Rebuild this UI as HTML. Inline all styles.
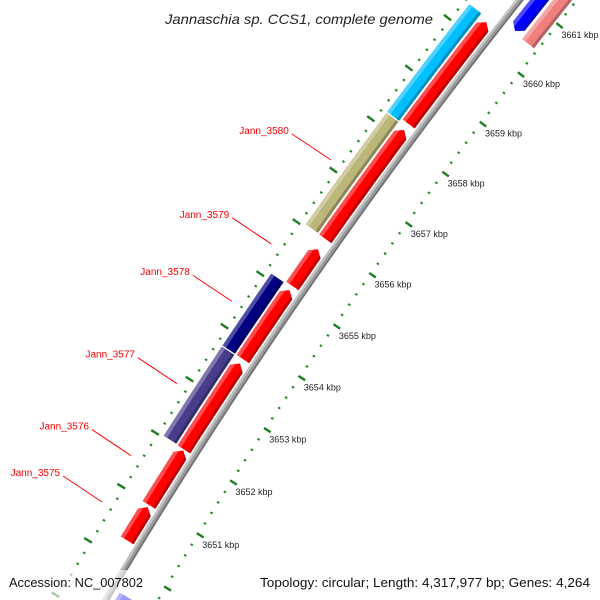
<!DOCTYPE html>
<html><head><meta charset="utf-8"><title>Jannaschia sp. CCS1 genome map</title>
<style>html,body{margin:0;padding:0;background:#fff;width:600px;height:600px;overflow:hidden}svg{display:block}</style></head>
<body>
<svg id="map" xmlns="http://www.w3.org/2000/svg" width="600" height="600" viewBox="0 0 600 600">
<rect x="0" y="0" width="600" height="600" fill="#fff"/>
<g id="ticks-layer"></g>
<g id="backbone-layer"></g>
<g id="feature-layer"></g>
<g id="label-layer"></g>
<text x="165" y="24" font-family="Liberation Sans, sans-serif" font-style="italic" font-size="14" fill="#222" textLength="268" lengthAdjust="spacingAndGlyphs">Jannaschia sp. CCS1, complete genome</text>
<rect x="0" y="570" width="152" height="30" fill="#fff" fill-opacity="0.6"/>
<rect x="255" y="570" width="345" height="30" fill="#fff" fill-opacity="0.6"/>
<text x="9" y="587" font-family="Liberation Sans, sans-serif" font-size="13" fill="#111" textLength="134" lengthAdjust="spacingAndGlyphs">Accession: NC_007802</text>
<text x="260" y="587" font-family="Liberation Sans, sans-serif" font-size="13" fill="#111" textLength="330" lengthAdjust="spacingAndGlyphs">Topology: circular; Length: 4,317,977 bp; Genes: 4,264</text>
</svg>
<script>
// ---- data (kbp positions) ----
const fwdStart = [3650.32, 3650.98, 3652.02, 3653.73, 3655.13, 3656.04, 3658.29];
const fwdEnd   = [3650.94, 3652.00, 3653.645, 3655.05, 3655.84, 3658.17, 3660.32];
const cogStart = [3652.03, 3653.73, 3656.05, 3658.24];
const cogEnd   = [3653.71, 3655.10, 3658.22, 3660.38];
const cogColor = ['#483d8b', '#000080', '#bdb67a', '#00bfff'];
const revStart = [3647.5, 3660.49];
const revEnd   = [3649.55, 3663.5];
const revCogStart = [3660.46];
const revCogEnd   = [3663.5];
const labelNames = ['Jann_3575', 'Jann_3576', 'Jann_3577', 'Jann_3578', 'Jann_3579', 'Jann_3580'];
const labelFeature = [0, 1, 2, 3, 4, 5];
const tickLabels = [3651, 3652, 3653, 3654, 3655, 3656, 3657, 3658, 3659, 3660, 3661];
const tickRangeStart = 3648;
const tickRangeEnd = 3663;

// ---- geometry ----
const NS = 'http://www.w3.org/2000/svg';
const CX = 4787, CY = 3387, A0 = 211.87, K0 = 3651, DEG = 0.662;
const R_BB = 5448;
function P(r, k) { const a = (A0 + (k - K0) * DEG) * Math.PI / 180; return [CX + r * Math.cos(a), CY + r * Math.sin(a)]; }
function arc(r, k1, k2) { const n = Math.max(2, Math.ceil(Math.abs(k2 - k1) * 4)); const pts = []; for (let i = 0; i <= n; i++) pts.push(P(r, k1 + (k2 - k1) * i / n)); return pts; }
function toPath(pts) { return 'M' + pts.map(p => p[0].toFixed(2) + ',' + p[1].toFixed(2)).join('L') + 'Z'; }
const AL = 0.1;
function shape(k1, k2, r1, r2, arrow) {
  const rm = (r1 + r2) / 2; let pts = [];
  if (arrow === 'end') { pts = arc(r2, k1, k2 - AL).concat([P(rm, k2)], arc(r1, k2 - AL, k1)); }
  else if (arrow === 'start') { pts = [P(rm, k1)].concat(arc(r2, k1 + AL, k2), arc(r1, k2, k1 + AL)); }
  else { pts = arc(r2, k1, k2).concat(arc(r1, k2, k1)); }
  return toPath(pts);
}
function band(k1, k2, r1, r2) { return toPath(arc(r2, k1 - 0.2, k2 + 0.2).concat(arc(r1, k2 + 0.2, k1 - 0.2))); }
const svg = document.getElementById('map');
const defs = document.createElementNS(NS, 'defs');
svg.insertBefore(defs, svg.firstChild);
let clipId = 0;
function feature(layer, name, k1, k2, r1, r2, color, arrow) {
  const g = document.createElementNS(NS, 'g');
  
  
  const d = shape(k1, k2, r1, r2, arrow);
  const cp = document.createElementNS(NS, 'clipPath');
  const id = 'clip' + (clipId++);
  cp.setAttribute('id', id);
  const cpp = document.createElementNS(NS, 'path'); cpp.setAttribute('d', d); cp.appendChild(cpp); defs.appendChild(cp);
  const base = document.createElementNS(NS, 'path');
  
  
  base.setAttribute('d', d); base.setAttribute('fill', color); g.appendChild(base);
  const hl = document.createElementNS(NS, 'path');
  
  
  hl.setAttribute('d', band(k1, k2, r2 - 4, r2 + 1)); hl.setAttribute('fill', '#fff'); hl.setAttribute('fill-opacity', '0.3'); hl.setAttribute('clip-path', 'url(#' + id + ')'); g.appendChild(hl);
  const sh = document.createElementNS(NS, 'path');
  
  
  sh.setAttribute('d', band(k1, k2, r1 - 1, r1 + 3)); sh.setAttribute('fill', '#000'); sh.setAttribute('fill-opacity', '0.25'); sh.setAttribute('clip-path', 'url(#' + id + ')'); g.appendChild(sh);
  layer.appendChild(g);
}

// ---- ticks ----
const tl = document.getElementById('ticks-layer');
function line(layer, name, a, b, w, col) {
  const l = document.createElementNS(NS, 'line');
  
  
  l.setAttribute('x1', a[0].toFixed(2)); l.setAttribute('y1', a[1].toFixed(2));
  l.setAttribute('x2', b[0].toFixed(2)); l.setAttribute('y2', b[1].toFixed(2));
  l.setAttribute('stroke', col); l.setAttribute('stroke-width', w);
  layer.appendChild(l);
}
const nT = Math.round((tickRangeEnd - tickRangeStart) / 0.2);
for (let i = 0; i <= nT; i++) {
  const k = tickRangeStart + i * 0.2;
  const major = Math.abs(k - Math.round(k)) < 1e-6;
  if (major) {
    line(tl, 'outer-major-tick', P(5489.5, k), P(5498.5, k), 2.4, '#1e7d1e');
    line(tl, 'inner-major-tick', P(5405, k), P(5397, k), 2.4, '#1e7d1e');
  } else {
    line(tl, 'outer-minor-tick', P(5489.5, k), P(5492, k), 2, '#1e8a1e');
    line(tl, 'inner-minor-tick', P(5404.5, k), P(5402, k), 2, '#1e8a1e');
  }
}
tickLabels.forEach(k => {
  const p = P(5401, k);
  const t = document.createElementNS(NS, 'text');
  
  
  t.setAttribute('x', (p[0] + 2).toFixed(1)); t.setAttribute('y', (p[1] + 12.5).toFixed(1));
  t.setAttribute('font-family', 'Liberation Sans, sans-serif'); t.setAttribute('font-size', '9'); t.setAttribute('fill', '#222');
  t.textContent = k + ' kbp';
  tl.appendChild(t);
});

// ---- backbone ----
const bl = document.getElementById('backbone-layer');
function arcStroke(layer, name, r, w, col) {
  const p = document.createElementNS(NS, 'path');
  
  
  p.setAttribute('d', 'M' + arc(r, tickRangeStart - 1, tickRangeEnd + 1).map(q => q[0].toFixed(2) + ',' + q[1].toFixed(2)).join('L'));
  p.setAttribute('fill', 'none'); p.setAttribute('stroke', col); p.setAttribute('stroke-width', w);
  layer.appendChild(p);
}
arcStroke(bl, 'backbone', R_BB, 6.5, '#9a9a9a');
arcStroke(bl, 'backbone-highlight', R_BB + 2, 2, '#c4c4c4');
arcStroke(bl, 'backbone-shadow', R_BB - 2.3, 1.6, '#707070');

// ---- features ----
const fl = document.getElementById('feature-layer');
fwdStart.forEach((s, i) => feature(fl, 'forward-gene-' + (i + 1), s, fwdEnd[i], 5453, 5468, '#ff0000', 'end'));
cogStart.forEach((s, i) => feature(fl, 'cog-feature-' + (i + 1), s, cogEnd[i], 5470, 5485, cogColor[i], 'none'));
revStart.forEach((s, i) => feature(fl, 'reverse-gene-' + (i + 1), s, revEnd[i], 5425, 5440, '#0000ff', 'start'));
revCogStart.forEach((s, i) => feature(fl, 'reverse-cog-feature-' + (i + 1), s, revCogEnd[i], 5407, 5422, '#f08080', 'none'));

// ---- labels ----
const ll = document.getElementById('label-layer');
labelNames.forEach((nm, i) => {
  const f = labelFeature[i];
  const mid = (fwdStart[f] + fwdEnd[f]) / 2;
  const e = P(5502, mid);
  const s = [e[0] - 39, e[1] - 26];
  line(ll, 'label-leader-' + nm, s, e, 1, '#ff0000');
  const t = document.createElementNS(NS, 'text');
  
  
  t.setAttribute('x', (s[0] - 3).toFixed(1)); t.setAttribute('y', (s[1] + 0).toFixed(1));
  t.setAttribute('text-anchor', 'end');
  t.setAttribute('font-family', 'Liberation Sans, sans-serif'); t.setAttribute('font-size', '10'); t.setAttribute('fill', '#ff0000');
  t.textContent = nm;
  ll.appendChild(t);
});
</script>
</body></html>
